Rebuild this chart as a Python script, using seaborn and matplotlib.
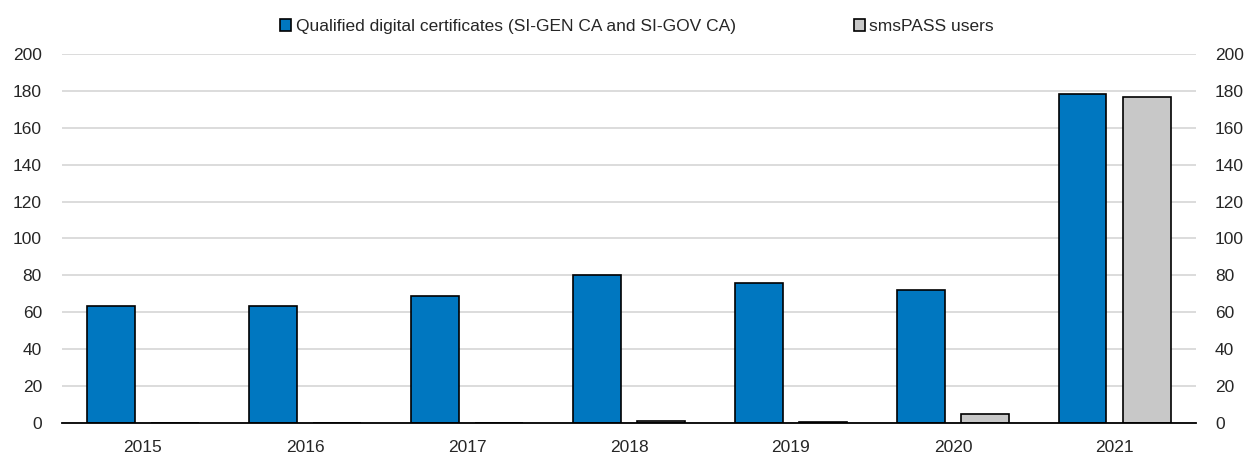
import pandas as pd
import numpy as np
import matplotlib
matplotlib.use('Agg')
import matplotlib.pyplot as plt
import seaborn as sns

years = ['2015', '2016', '2017', '2018', '2019', '2020', '2021']
certificates = [63.5, 63.5, 69, 80, 76, 72, 178.5]
smspass = [0, 0, 0, 1, 0.3, 5, 176.5]
series_names = ['Qualified digital certificates (SI-GEN CA and SI-GOV CA)', 'smsPASS users']
colors = ['#0077C0', '#C8C8C8']
yticks = np.arange(0, 201, 20)

df = pd.DataFrame({
    'year': years * 2,
    'value': certificates + smspass,
    'series': [series_names[0]] * len(years) + [series_names[1]] * len(years),
})

sns.set_style('white')
plt.rcParams['font.family'] = ['Liberation Sans', 'DejaVu Sans']
fs = 12.5

fig = plt.figure(figsize=(12.52, 4.57), dpi=100)
ax = fig.add_axes([0.0495, 0.0744, 0.9057, 0.8076])

sns.barplot(data=df, x='year', y='value', hue='series', palette=colors, saturation=1,
            width=0.8, gap=0.26, edgecolor='black', linewidth=1.2, ax=ax)

ax.set_ylim(0, 200)
ax.set_xlim(-0.5, len(years) - 0.5)
ax.set_yticks(yticks)
ax.yaxis.grid(True, color='#D9D9D9', linewidth=1.3)
ax.set_axisbelow(True)
ax.set_xlabel('')
ax.set_ylabel('')
for s in ['left', 'right', 'top']:
    ax.spines[s].set_visible(False)
ax.spines['bottom'].set_color('black')
ax.spines['bottom'].set_linewidth(1.3)

# category ticks sit between the groups, pointing up
ax.set_xticks(np.arange(len(years) + 1) - 0.5, minor=True)
ax.tick_params(axis='x', which='minor', direction='in', length=6, width=1.3, color='black')
ax.tick_params(axis='x', which='major', length=0, labelsize=fs, pad=12)
ax.tick_params(axis='y', length=0, labelsize=fs, pad=14.4)

ax2 = ax.twinx()
ax2.set_ylim(0, 200)
ax2.set_yticks(yticks)
ax2.tick_params(axis='y', length=0, labelsize=fs, pad=13.7)
for s in ['left', 'right', 'top', 'bottom']:
    ax2.spines[s].set_visible(False)

handles, labels = ax.get_legend_handles_labels()
ax.legend(handles, labels, loc='lower center', bbox_to_anchor=(0.507, 1.035), ncol=2,
          frameon=False, fontsize=fs, handlelength=0.65, handleheight=0.65,
          handletextpad=0.25, columnspacing=6.8, borderaxespad=0)

fig.savefig('out.png', dpi=100)
